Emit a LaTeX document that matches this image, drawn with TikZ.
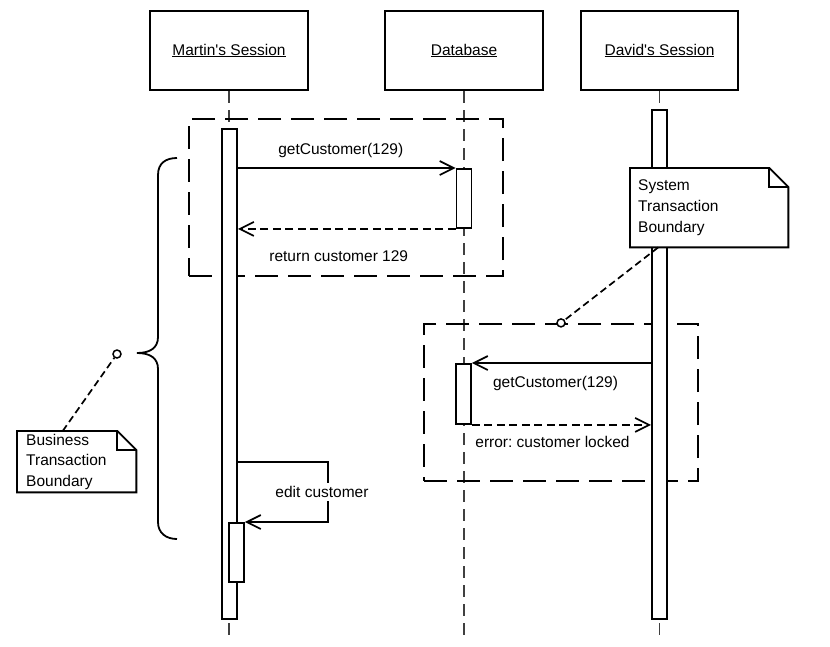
\documentclass[tikz,border=0pt]{standalone}
\usepackage{fontspec}
\setmainfont{Liberation Sans}
\usetikzlibrary{arrows.meta, positioning}

% folded corner of a note
\newcommand{\dogear}[1]{%
  \draw[notebox] (#1.north west) -- ([xshift=-19pt]#1.north east) -- ([yshift=-19pt]#1.north east) -- (#1.south east) -- (#1.south west) -- cycle;
  \draw[notebox] ([xshift=-19pt]#1.north east) |- ([yshift=-19pt]#1.north east);}

\begin{document}
\begin{tikzpicture}[
    x=1pt, y=-1pt,
    font=\fontsize{15.5}{20.6}\selectfont\frenchspacing,
    object/.style={rectangle, draw, line width=2pt, minimum width=158pt, minimum height=79pt},
    lifeline/.style={draw=black!75, line width=1.7pt, dash pattern=on 12pt off 7pt},
    bar/.style={rectangle, draw, fill=white, line width=1.9pt, minimum width=15pt,
                inner sep=0pt, anchor=north},
    txbox/.style={rectangle, draw, line width=2.2pt, dash pattern=on 23pt off 10pt},
    msg/.style={-{Straight Barb[length=14pt, width=14pt, line width=1.7pt]}, line width=1.8pt},
    reply/.style={msg, dash pattern=on 8pt off 4.5pt},
    note/.style={rectangle, fill=white, anchor=north west, align=left, inner ysep=2pt},
    notebox/.style={line width=1.9pt},
    anchorline/.style={line width=1.7pt, dash pattern=on 7pt off 4pt},
    dot/.style={circle, draw, fill=white, line width=1.5pt, minimum size=8pt, inner sep=0pt}
]
\useasboundingbox (0,0) rectangle (830,646);

% Objects
\node[object] (martin) at (229,50.5) {\underline{Martin\textquotesingle s Session}};
\node[object] (db) at (464,50.5) {\underline{Database}};
\node[object, minimum width=157pt] (david) at (659.5,50.5) {\underline{David\textquotesingle s Session}};
\coordinate (floor) at (0,638);

% Lifelines
\draw[lifeline] (martin.south) -- (martin.south |- floor);
\draw[lifeline] (db.south) -- (db.south |- floor);
\draw[lifeline] (david.south) -- (david.south |- floor);

% Transaction boxes
\node[txbox, minimum width=314pt, minimum height=157pt] (biztx) at (346,197.5) {};
\node[txbox, minimum width=274pt, minimum height=157pt] (systx) at (561,402.5) {};

% Activations
\node[bar, minimum height=490pt] (mbar) at (229.5,128) {};
\node[bar, minimum height=59pt] (dbact1) at (464,168) {};
\node[bar, minimum height=60pt] (dbact2) at (463.5,363) {};
\node[bar, minimum height=509pt] (dbar) at (659.5,109) {};
\node[bar, minimum height=59pt] (mact2) at (236.5,522) {};

% Martin's calls
\draw[msg] (mbar.east |- dbact1.north) -- node[above=6pt, xshift=-6pt] {getCustomer(129)} (dbact1.north west);
\draw[reply] (dbact1.south west) -- node[below=18pt, xshift=-8pt] {return customer 129} (mbar.east |- dbact1.south);

% David's calls
\draw[msg] (dbar.west |- dbact2.north) -- node[below=9pt, xshift=-6pt] {getCustomer(129)} (dbact2.north east);
\draw[reply] (dbact2.south east) -- node[below=7pt, xshift=-9pt] {error: customer locked} (dbar.west |- dbact2.south);

% Self call
\coordinate (selfturn) at (328,462);
\draw[msg] (mbar.east |- selfturn) -- (selfturn) |- node[pos=0.25, fill=white, xshift=-6pt] {edit customer} (mact2.north east);

% Business transaction brace
\draw[line width=1.8pt] (177,158) .. controls (166,158) and (158,163) .. (158,175) -- (158,337)
    .. controls (158,348) and (150,353) .. (137,353) .. controls (150,353) and (158,358) .. (158,369)
    -- (158,522) .. controls (158,533) and (166,539) .. (177,539);

% Notes
\node[note, minimum width=158pt, minimum height=79pt, text width=142pt, inner xsep=8pt] (sysnote) at (630,168) {System\\Transaction\\Boundary};
\dogear{sysnote}
\node[note, minimum width=119pt, minimum height=61pt, text width=101pt, inner xsep=9pt] (biznote) at (17,431) {Business\\Transaction\\Boundary};
\dogear{biznote}

\node[dot] (sysdot) at (systx.north) {};
\node[dot] (bizdot) at (117,354) {};
\draw[anchorline] ([xshift=-51pt]sysnote.south) -- (sysdot);
\draw[anchorline] ([xshift=-14pt]biznote.north) -- (bizdot);

\end{tikzpicture}
\end{document}
